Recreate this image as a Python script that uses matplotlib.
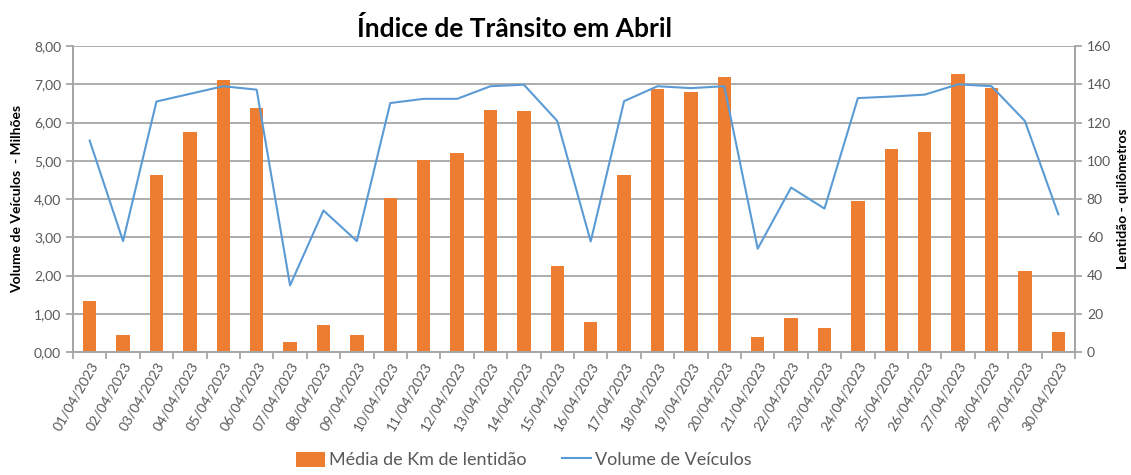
import numpy as np
import matplotlib
matplotlib.use('Agg')
import matplotlib.pyplot as plt
from matplotlib.ticker import FuncFormatter, FixedLocator

plt.rcParams['font.family'] = ['Lato', 'DejaVu Sans']

#dates of april 2023
dias = ['%02d/04/2023' % d for d in range(1, 31)]

#average km of slow traffic (right axis)
km_lentidao = [26.7, 8.7, 92.4, 115.0, 142.0, 127.6, 5.2, 13.9, 8.7, 80.7,
               100.6, 104.0, 126.7, 125.8, 44.8, 15.7, 92.4, 137.3, 135.8, 143.6,
               7.8, 18.0, 12.5, 79.0, 106.0, 115.0, 145.5, 138.2, 42.2, 10.5]

#vehicle volume in millions (left axis)
volume = [5.53, 2.90, 6.55, 6.75, 6.95, 6.86, 1.74, 3.70, 2.90, 6.51,
          6.62, 6.62, 6.95, 6.99, 6.04, 2.89, 6.56, 6.95, 6.90, 6.95,
          2.70, 4.30, 3.75, 6.64, 6.68, 6.73, 7.00, 6.95, 6.04, 3.60]

laranja = '#ED7D31'
azul = '#5B9BD5'
cinza = '#A6A6A6'
txt = '#595959'

fig = plt.figure(figsize=(11.31, 4.75), dpi=100)
ax_km = fig.add_axes([0.0645, 0.259, 0.886, 0.644])
ax_vol = ax_km.twinx()

x = np.arange(len(dias))

#bars on the km axis (drawn first, under the line)
b = ax_km.bar(x, km_lentidao, width=0.4, color=laranja, label='Média de Km de lentidão', zorder=2)
ax_km.set_ylim(0, 160)
ax_km.set_yticks(np.arange(0, 161, 20))
ax_km.yaxis.tick_right()
ax_km.yaxis.set_label_position('right')
ax_km.set_ylabel('Lentidão - quilômetros', fontsize=10, fontweight='bold', labelpad=4)
ax_km.grid(axis='y', color=cinza, linewidth=1.3, zorder=0)
ax_km.set_axisbelow(True)

#line on the volume axis
l, = ax_vol.plot(x, volume, color=azul, linewidth=1.5, label='Volume de Veículos')
ax_vol.set_ylim(0, 8)
ax_vol.set_yticks(np.arange(0, 8.01, 1))
ax_vol.yaxis.tick_left()
ax_vol.yaxis.set_label_position('left')
ax_vol.yaxis.set_major_formatter(FuncFormatter(lambda v, p: ('%.2f' % v).replace('.', ',')))
ax_vol.set_ylabel('Volume de Veículos  - Milhões', fontsize=10, fontweight='bold', labelpad=8)

ax_km.set_xlim(-0.5, len(dias) - 0.5)
ax_km.set_xticks(x)
ax_km.set_xticklabels(dias, rotation=60, ha='right', rotation_mode='anchor', fontsize=10, color=txt)
ax_km.tick_params(axis='x', length=0, pad=6)
ax_km.xaxis.set_minor_locator(FixedLocator(np.arange(-0.5, len(dias), 1)))
ax_km.tick_params(axis='x', which='minor', length=5, color=cinza, width=1.3)

for a in (ax_km, ax_vol):
    a.spines['top'].set_visible(False)
    for s in ('left', 'right', 'bottom'):
        a.spines[s].set_color(cinza)
        a.spines[s].set_linewidth(1.3)
    a.tick_params(axis='y', length=5, color=cinza, width=1.3, labelsize=10, labelcolor=txt)

fig.text(0.455, 0.94, 'Índice de Trânsito em Abril', ha='center', va='center',
         fontsize=19, fontweight='bold')

fig.legend(handles=[b, l], loc='lower center', bbox_to_anchor=(0.463, -0.02), ncol=2,
           frameon=False, fontsize=13, handlelength=1.6, handleheight=0.9, columnspacing=2.0,
           handletextpad=0.2, labelcolor=txt)

fig.savefig('out.png', dpi=100)
